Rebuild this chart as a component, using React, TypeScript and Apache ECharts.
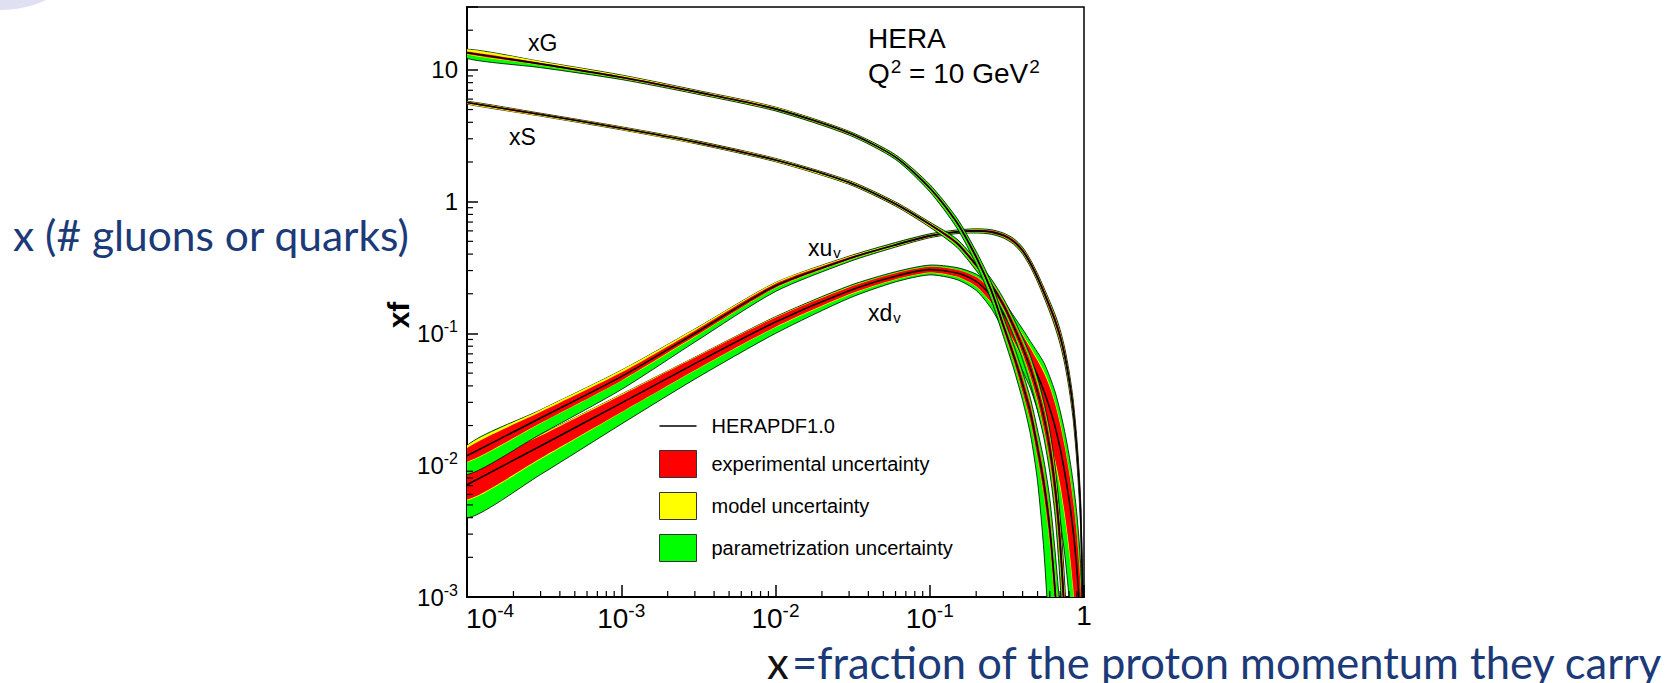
import React, { useEffect, useRef } from "react";
import * as echarts from "echarts";

const FONT = "'Liberation Sans', Arial, Helvetica, sans-serif";
const SLIDE_FONT = "Lato, 'Open Sans', sans-serif";
const NAVY = "#1c3a78";
const RED = "#ff0000";
const YELLOW = "#ffff00";
const GREEN = "#00ff00";

// x grids
const xGridGS = [1e-4, 3e-4, 1e-3, 3e-3, 0.01, 0.03, 0.06, 0.1, 0.15, 0.2, 0.25, 0.3, 0.35, 0.4, 0.45, 0.5, 0.55, 0.6, 0.65, 0.7, 0.75, 0.8];
const xGridV = [1e-4, 3e-4, 1e-3, 3e-3, 0.01, 0.03, 0.06, 0.1, 0.15, 0.2, 0.25, 0.3, 0.35, 0.4, 0.45, 0.5, 0.55, 0.6, 0.65, 0.7, 0.75, 0.8, 0.85, 0.9, 0.95, 0.99];

// xG
const xgCentral = [13.5, 11.1, 8.8, 6.84, 5.06, 3.32, 2.18, 1.27, 0.694, 0.38, 0.213, 0.115, 0.068, 0.041, 0.025, 0.0135, 0.0072, 0.0033, 0.0011, 0.0003, 0.00008, 0.00002];
const xgExpLo = [13.2, 10.9, 8.65, 6.73, 4.98, 3.27, 2.15, 1.24, 0.675, 0.365, 0.202, 0.107, 0.062, 0.036, 0.0215, 0.0115, 0.0059, 0.0026, 0.00082, 0.0002, 0.00005, 0.00001];
const xgExpHi = [13.8, 11.3, 8.95, 6.95, 5.14, 3.37, 2.21, 1.3, 0.713, 0.395, 0.224, 0.123, 0.074, 0.046, 0.0285, 0.0156, 0.0086, 0.0041, 0.0014, 0.0004, 0.00011, 0.00003];
const xgModLo = [13.1, 10.85, 8.6, 6.68, 4.95, 3.25, 2.14, 1.23, 0.67, 0.362, 0.2, 0.106, 0.061, 0.0355, 0.021, 0.0112, 0.0057, 0.0025, 0.0008, 0.0002, 0.00005, 0.00001];
const xgModHi = [14.35, 11.6, 9.1, 7.0, 5.2, 3.39, 2.23, 1.31, 0.718, 0.398, 0.226, 0.124, 0.075, 0.0465, 0.029, 0.0159, 0.0088, 0.0042, 0.00145, 0.00042, 0.00012, 0.00003];
const xgParLo = [12.2, 10.4, 8.45, 6.6, 4.88, 3.2, 2.09, 1.19, 0.63, 0.335, 0.18, 0.095, 0.054, 0.031, 0.017, 0.0075, 0.0022, 0.0004, 0.00005, 0.00001, 0.000005, 0.000001];
const xgParHi = [14.35, 11.6, 9.15, 7.05, 5.22, 3.42, 2.27, 1.35, 0.75, 0.42, 0.245, 0.134, 0.082, 0.051, 0.032, 0.0185, 0.0108, 0.0056, 0.0022, 0.0008, 0.00025, 0.00006];

// xS
const xsCentral = [5.65, 4.58, 3.61, 2.84, 2.07, 1.4, 0.96, 0.673, 0.485, 0.33, 0.235, 0.165, 0.113, 0.078, 0.054, 0.036, 0.023, 0.0135, 0.0068, 0.0026, 0.0007, 0.00012];
const xsExpLo = [5.57, 4.52, 3.56, 2.8, 2.04, 1.38, 0.945, 0.66, 0.472, 0.318, 0.224, 0.155, 0.104, 0.07, 0.047, 0.031, 0.019, 0.011, 0.0053, 0.0019, 0.00045, 0.00007];
const xsExpHi = [5.73, 4.64, 3.66, 2.88, 2.1, 1.42, 0.975, 0.686, 0.498, 0.342, 0.246, 0.175, 0.122, 0.086, 0.061, 0.041, 0.027, 0.0162, 0.0084, 0.0034, 0.001, 0.0002];
const xsModLo = [5.5, 4.46, 3.52, 2.77, 2.02, 1.365, 0.935, 0.652, 0.468, 0.315, 0.222, 0.153, 0.103, 0.069, 0.046, 0.03, 0.0185, 0.0106, 0.0051, 0.0018, 0.00043, 0.00007];
const xsModHi = [5.75, 4.66, 3.68, 2.9, 2.12, 1.435, 0.985, 0.692, 0.502, 0.345, 0.248, 0.177, 0.123, 0.087, 0.062, 0.042, 0.0275, 0.0166, 0.0087, 0.0035, 0.00105, 0.0002];
const xsParLo = [5.5, 4.46, 3.51, 2.76, 2.01, 1.355, 0.925, 0.64, 0.45, 0.3, 0.21, 0.145, 0.096, 0.063, 0.041, 0.026, 0.016, 0.0088, 0.0041, 0.0013, 0.0003, 0.00004];
const xsParHi = [5.78, 4.69, 3.7, 2.92, 2.13, 1.445, 0.995, 0.7, 0.52, 0.36, 0.26, 0.185, 0.13, 0.093, 0.067, 0.046, 0.03, 0.0185, 0.0098, 0.0041, 0.0013, 0.00025];

// xuv
const xuvCentral = [0.0118, 0.0228, 0.047, 0.1, 0.23, 0.37, 0.47, 0.55, 0.59, 0.6, 0.59, 0.555, 0.5, 0.425, 0.34, 0.265, 0.205, 0.16, 0.125, 0.095, 0.068, 0.045, 0.027, 0.013, 0.0045, 0.0006];
const xuvExpLo = [0.0106, 0.0209, 0.0438, 0.095, 0.222, 0.362, 0.462, 0.54, 0.58, 0.588, 0.577, 0.542, 0.486, 0.411, 0.327, 0.254, 0.195, 0.151, 0.117, 0.088, 0.0625, 0.041, 0.0243, 0.0115, 0.0039, 0.0005];
const xuvExpHi = [0.0135, 0.0253, 0.0505, 0.105, 0.238, 0.378, 0.478, 0.56, 0.6, 0.612, 0.603, 0.568, 0.514, 0.439, 0.353, 0.276, 0.215, 0.169, 0.133, 0.102, 0.0735, 0.049, 0.0297, 0.0145, 0.0051, 0.0007];
const xuvModLo = [0.0105, 0.0207, 0.0435, 0.094, 0.221, 0.36, 0.459, 0.538, 0.578, 0.586, 0.575, 0.54, 0.484, 0.409, 0.325, 0.252, 0.193, 0.15, 0.116, 0.087, 0.062, 0.0405, 0.024, 0.0113, 0.0038, 0.0005];
const xuvModHi = [0.0141, 0.0263, 0.0525, 0.108, 0.243, 0.383, 0.482, 0.562, 0.602, 0.614, 0.605, 0.57, 0.516, 0.441, 0.355, 0.278, 0.217, 0.17, 0.134, 0.103, 0.074, 0.0495, 0.03, 0.0147, 0.0052, 0.0007];
const xuvParLo = [0.0085, 0.0172, 0.0375, 0.086, 0.208, 0.35, 0.452, 0.532, 0.572, 0.578, 0.566, 0.53, 0.475, 0.4, 0.318, 0.246, 0.188, 0.145, 0.111, 0.083, 0.0585, 0.038, 0.0223, 0.0104, 0.0034, 0.00045];
const xuvParHi = [0.0141, 0.0263, 0.0525, 0.108, 0.243, 0.386, 0.49, 0.57, 0.61, 0.622, 0.613, 0.578, 0.525, 0.45, 0.362, 0.284, 0.222, 0.175, 0.139, 0.107, 0.0775, 0.052, 0.0318, 0.0157, 0.0056, 0.00078];

// xdv
const xdvCentral = [0.0071, 0.014, 0.0296, 0.059, 0.122, 0.211, 0.272, 0.305, 0.287, 0.248, 0.193, 0.142, 0.105, 0.08, 0.062, 0.048, 0.0365, 0.027, 0.0195, 0.0135, 0.0088, 0.0055, 0.0032, 0.0016, 0.0006, 0.0001];
const xdvExpLo = [0.0055, 0.0113, 0.0252, 0.0525, 0.112, 0.198, 0.258, 0.29, 0.27, 0.228, 0.172, 0.122, 0.088, 0.065, 0.049, 0.036, 0.025, 0.0165, 0.011, 0.0072, 0.0043, 0.0024, 0.0012, 0.0005, 0.00015, 0.00002];
const xdvExpHi = [0.0087, 0.0167, 0.034, 0.0655, 0.132, 0.224, 0.286, 0.32, 0.304, 0.268, 0.215, 0.163, 0.124, 0.097, 0.077, 0.062, 0.05, 0.039, 0.029, 0.0205, 0.0138, 0.0089, 0.0054, 0.0029, 0.0012, 0.0002];
const xdvModLo = [0.0054, 0.0111, 0.025, 0.052, 0.111, 0.196, 0.256, 0.288, 0.268, 0.226, 0.17, 0.12, 0.086, 0.063, 0.047, 0.0345, 0.024, 0.0156, 0.0103, 0.0067, 0.004, 0.0022, 0.0011, 0.00045, 0.00013, 0.00002];
const xdvModHi = [0.0089, 0.017, 0.0345, 0.066, 0.133, 0.226, 0.288, 0.322, 0.306, 0.27, 0.217, 0.165, 0.126, 0.099, 0.079, 0.064, 0.052, 0.0405, 0.03, 0.0213, 0.0143, 0.0092, 0.0056, 0.003, 0.00125, 0.0002];
const xdvParLo = [0.004, 0.0085, 0.0205, 0.045, 0.1, 0.185, 0.246, 0.278, 0.256, 0.212, 0.155, 0.106, 0.074, 0.052, 0.038, 0.026, 0.017, 0.0105, 0.0065, 0.0038, 0.0021, 0.001, 0.00045, 0.00015, 0.00004, 0.000005];
const xdvParHi = [0.0089, 0.017, 0.0345, 0.066, 0.134, 0.23, 0.294, 0.33, 0.316, 0.282, 0.23, 0.178, 0.136, 0.108, 0.087, 0.072, 0.06, 0.047, 0.036, 0.026, 0.018, 0.012, 0.0075, 0.0042, 0.0018, 0.0003];

// tick positions
const majorTicksX = [1e-4, 1e-3, 1e-2, 1e-1, 1];
const majorTicksY = [1e-3, 1e-2, 1e-1, 1, 10];
const minorTicksX = [
  2e-4, 3e-4, 4e-4, 5e-4, 6e-4, 7e-4, 8e-4, 9e-4,
  2e-3, 3e-3, 4e-3, 5e-3, 6e-3, 7e-3, 8e-3, 9e-3,
  0.02, 0.03, 0.04, 0.05, 0.06, 0.07, 0.08, 0.09,
  0.2, 0.3, 0.4, 0.5, 0.6, 0.7, 0.8, 0.9,
];
const minorTicksY = [
  0.002, 0.003, 0.004, 0.005, 0.006, 0.007, 0.008, 0.009,
  0.02, 0.03, 0.04, 0.05, 0.06, 0.07, 0.08, 0.09,
  0.2, 0.3, 0.4, 0.5, 0.6, 0.7, 0.8, 0.9,
  2, 3, 4, 5, 6, 7, 8, 9,
  20,
];

const LEG_LINE = "HERAPDF1.0";
const LEG_EXP = "experimental uncertainty";
const LEG_MOD = "model uncertainty";
const LEG_PAR = "parametrization uncertainty";

const SMOOTH = 0.25;

function decadeLabel(v: number): string {
  const l = Math.log10(v);
  const e = Math.round(l);
  if (Math.abs(l - e) > 1e-6) return "";
  if (e === 0) return "{b|1}";
  if (e === 1) return "{b|10}";
  return `{b|10}{s|${e}}`;
}

const labelRichX = {
  b: { fontSize: 28, fontFamily: FONT, fill: "#000" },
  s: { fontSize: 19, fontFamily: FONT, fill: "#000", padding: [0, 0, 16, 0] },
};
const labelRichY = {
  b: { fontSize: 24, fontFamily: FONT, fill: "#000" },
  s: { fontSize: 16, fontFamily: FONT, fill: "#000", padding: [0, 0, 14, 0] },
};

let zCounter = 2;
function band(name: string, xs: number[], lo: number[], hi: number[], color: string, outline: boolean) {
  zCounter += 1;
  return {
    type: "custom",
    name,
    z: zCounter,
    clip: true,
    silent: true,
    itemStyle: { color },
    data: xs.map((x, i) => [x, lo[i], hi[i]]),
    encode: { x: 0, y: [1, 2] },
    renderItem: (params: any, api: any) => {
      if (params.dataIndex !== 0) return null;
      const top = xs.map((x, i) => api.coord([x, hi[i]]));
      const bottom = xs.map((x, i) => api.coord([x, lo[i]])).reverse();
      return {
        type: "polygon",
        shape: { points: top.concat(bottom), smooth: SMOOTH },
        style: {
          fill: color,
          stroke: outline ? "#000" : null,
          lineWidth: outline ? 0.8 : 0,
        },
      };
    },
  };
}

function centralLine(xs: number[], c: number[]) {
  zCounter += 1;
  return {
    type: "line",
    name: LEG_LINE,
    z: zCounter,
    silent: true,
    clip: true,
    symbol: "none",
    showSymbol: false,
    smooth: SMOOTH,
    data: xs.map((x, i) => [x, c[i]]),
    lineStyle: { color: "#000", width: 1.6 },
    itemStyle: { color: "#000" },
  };
}

function pdfGroup(xs: number[], c: number[], eLo: number[], eHi: number[], mLo: number[], mHi: number[], pLo: number[], pHi: number[]) {
  return [
    band(LEG_PAR, xs, pLo, pHi, GREEN, true),
    band(LEG_MOD, xs, mLo, mHi, YELLOW, false),
    band(LEG_EXP, xs, eLo, eHi, RED, false),
    centralLine(xs, c),
  ];
}

export default function App() {
  const ref = useRef<HTMLDivElement>(null);

  useEffect(() => {
    if (!ref.current) return;
    const chart = echarts.init(ref.current, undefined, { renderer: "svg" });
    zCounter = 2;

    const series: any[] = [
      ...pdfGroup(xGridV, xdvCentral, xdvExpLo, xdvExpHi, xdvModLo, xdvModHi, xdvParLo, xdvParHi),
      ...pdfGroup(xGridV, xuvCentral, xuvExpLo, xuvExpHi, xuvModLo, xuvModHi, xuvParLo, xuvParHi),
      ...pdfGroup(xGridGS, xsCentral, xsExpLo, xsExpHi, xsModLo, xsModHi, xsParLo, xsParHi),
      ...pdfGroup(xGridGS, xgCentral, xgExpLo, xgExpHi, xgModLo, xgModHi, xgParLo, xgParHi),
      {
        type: "custom",
        name: "minorX",
        z: 60,
        silent: true,
        clip: false,
        data: minorTicksX.map((v) => [v, 0.001]),
        renderItem: (params: any, api: any) => {
          const p = api.coord([api.value(0), api.value(1)]);
          return {
            type: "line",
            shape: { x1: p[0], y1: p[1], x2: p[0], y2: p[1] - 6 },
            style: { stroke: "#000", lineWidth: 1.2 },
          };
        },
      },
      {
        type: "custom",
        name: "minorY",
        z: 60,
        silent: true,
        clip: false,
        data: minorTicksY.map((v) => [1e-4, v]),
        renderItem: (params: any, api: any) => {
          const p = api.coord([api.value(0), api.value(1)]);
          return {
            type: "line",
            shape: { x1: p[0], y1: p[1], x2: p[0] + 6, y2: p[1] },
            style: { stroke: "#000", lineWidth: 1.2 },
          };
        },
      },
      {
        type: "custom",
        name: "xTickLabels",
        z: 70,
        silent: true,
        clip: false,
        data: majorTicksX.map((v) => [v, 0.001]),
        renderItem: (params: any, api: any) => {
          const v = api.value(0);
          const p = api.coord([v, api.value(1)]);
          const first = params.dataIndex === 0;
          return {
            type: "text",
            x: first ? p[0] - 1 : p[0],
            y: p[1] + 4,
            style: { text: decadeLabel(v), align: first ? "left" : "center", verticalAlign: "top", fill: "#000", rich: labelRichX },
          };
        },
      },
      {
        type: "custom",
        name: "yTickLabels",
        z: 70,
        silent: true,
        clip: false,
        data: majorTicksY.map((v) => [1e-4, v]),
        renderItem: (params: any, api: any) => {
          const v = api.value(1);
          const p = api.coord([api.value(0), v]);
          return {
            type: "text",
            x: p[0] - 9,
            y: p[1],
            style: { text: decadeLabel(v), align: "right", verticalAlign: "middle", fill: "#000", rich: labelRichY },
          };
        },
      },
    ];

    chart.setOption({
      animation: false,
      backgroundColor: "#ffffff",
      grid: {
        left: 467,
        top: 7,
        width: 617,
        height: 590,
        show: true,
        borderColor: "#000",
        borderWidth: 1.5,
        backgroundColor: "transparent",
      },
      xAxis: {
        type: "log",
        logBase: 10,
        min: 1e-4,
        max: 1,
        axisLine: { lineStyle: { color: "#000", width: 2 } },
        axisTick: { inside: true, length: 12, lineStyle: { color: "#000", width: 1.5 } },
        axisLabel: { show: false },
        splitLine: { show: false },
        minorTick: { show: false },
      },
      yAxis: {
        type: "log",
        logBase: 10,
        min: 0.001,
        max: 30,
        axisLine: { lineStyle: { color: "#000", width: 2 } },
        axisTick: { inside: true, length: 11, lineStyle: { color: "#000", width: 1.5 } },
        axisLabel: { show: false },
        splitLine: { show: false },
        minorTick: { show: false },
      },
      legend: {
        orient: "vertical",
        left: 659,
        top: 416,
        padding: 0,
        itemWidth: 37,
        itemHeight: 27,
        itemGap: 14,
        selectedMode: false,
        symbolKeepAspect: true,
        textStyle: { fontSize: 20, fontFamily: FONT, color: "#000", padding: [0, 0, 0, 10] },
        data: [
          { name: LEG_LINE, icon: "path://M0,0L37,0L37,1.6L0,1.6Z", itemStyle: { color: "#000" } },
          { name: LEG_EXP, icon: "rect", itemStyle: { color: RED, borderColor: "#333", borderWidth: 1 } },
          { name: LEG_MOD, icon: "rect", itemStyle: { color: YELLOW, borderColor: "#333", borderWidth: 1 } },
          { name: LEG_PAR, icon: "rect", itemStyle: { color: GREEN, borderColor: "#333", borderWidth: 1 } },
        ],
      },
      graphic: [
        {
          type: "ellipse",
          z: 0,
          shape: { cx: 0, cy: -38, rx: 75, ry: 48 },
          style: { fill: "#dfe0f2" },
        },
        {
          type: "text",
          x: 398,
          y: 315,
          z: 100,
          rotation: Math.PI / 2,
          style: { text: "xf", fontSize: 30, fontWeight: "bold", fontFamily: FONT, fill: "#000", align: "center", verticalAlign: "middle" },
        },
        {
          type: "text",
          x: 528,
          y: 43,
          z: 100,
          style: { text: "xG", fontSize: 23, fontFamily: FONT, fill: "#000", align: "left", verticalAlign: "middle" },
        },
        {
          type: "text",
          x: 509,
          y: 137,
          z: 100,
          style: { text: "xS", fontSize: 23, fontFamily: FONT, fill: "#000", align: "left", verticalAlign: "middle" },
        },
        {
          type: "text",
          x: 808,
          y: 248,
          z: 100,
          style: {
            text: "{n|xu}{v|v}",
            align: "left",
            verticalAlign: "middle",
            rich: {
              n: { fontSize: 23, fontFamily: FONT, fill: "#000" },
              v: { fontSize: 15, fontFamily: FONT, fill: "#000", padding: [8, 0, 0, 1] },
            },
          },
        },
        {
          type: "text",
          x: 868,
          y: 313,
          z: 100,
          style: {
            text: "{n|xd}{v|v}",
            align: "left",
            verticalAlign: "middle",
            rich: {
              n: { fontSize: 23, fontFamily: FONT, fill: "#000" },
              v: { fontSize: 15, fontFamily: FONT, fill: "#000", padding: [8, 0, 0, 1] },
            },
          },
        },
        {
          type: "text",
          x: 868,
          y: 38,
          z: 100,
          style: { text: "HERA", fontSize: 28, fontFamily: FONT, fill: "#000", align: "left", verticalAlign: "middle" },
        },
        {
          type: "text",
          x: 868,
          y: 73,
          z: 100,
          style: {
            text: "{n|Q}{s|2}{n| = 10 GeV}{s|2}",
            align: "left",
            verticalAlign: "middle",
            rich: {
              n: { fontSize: 28, fontFamily: FONT, fill: "#000" },
              s: { fontSize: 19, fontFamily: FONT, fill: "#000", padding: [0, 0, 14, 1] },
            },
          },
        },
        {
          type: "text",
          x: 13,
          y: 234,
          z: 100,
          style: { text: "x (# gluons or quarks)", fontSize: 42.5, fontFamily: SLIDE_FONT, fill: NAVY, align: "left", verticalAlign: "middle" },
        },
        {
          type: "text",
          x: 767,
          y: 662,
          z: 100,
          style: { text: "x", fontSize: 43.5, fontFamily: SLIDE_FONT, fill: "#111", align: "left", verticalAlign: "middle" },
        },
        {
          type: "text",
          x: 792,
          y: 662,
          z: 100,
          style: { text: "=fraction of the proton momentum they carry", fontSize: 43.5, fontFamily: SLIDE_FONT, fill: NAVY, align: "left", verticalAlign: "middle" },
        },
      ],
      series,
    });

    return () => {
      chart.dispose();
    };
  }, []);

  return (
    <div
      ref={ref}
      style={{ position: "absolute", left: 0, top: 0, width: "1666px", height: "683px", background: "#fff" }}
    />
  );
}
